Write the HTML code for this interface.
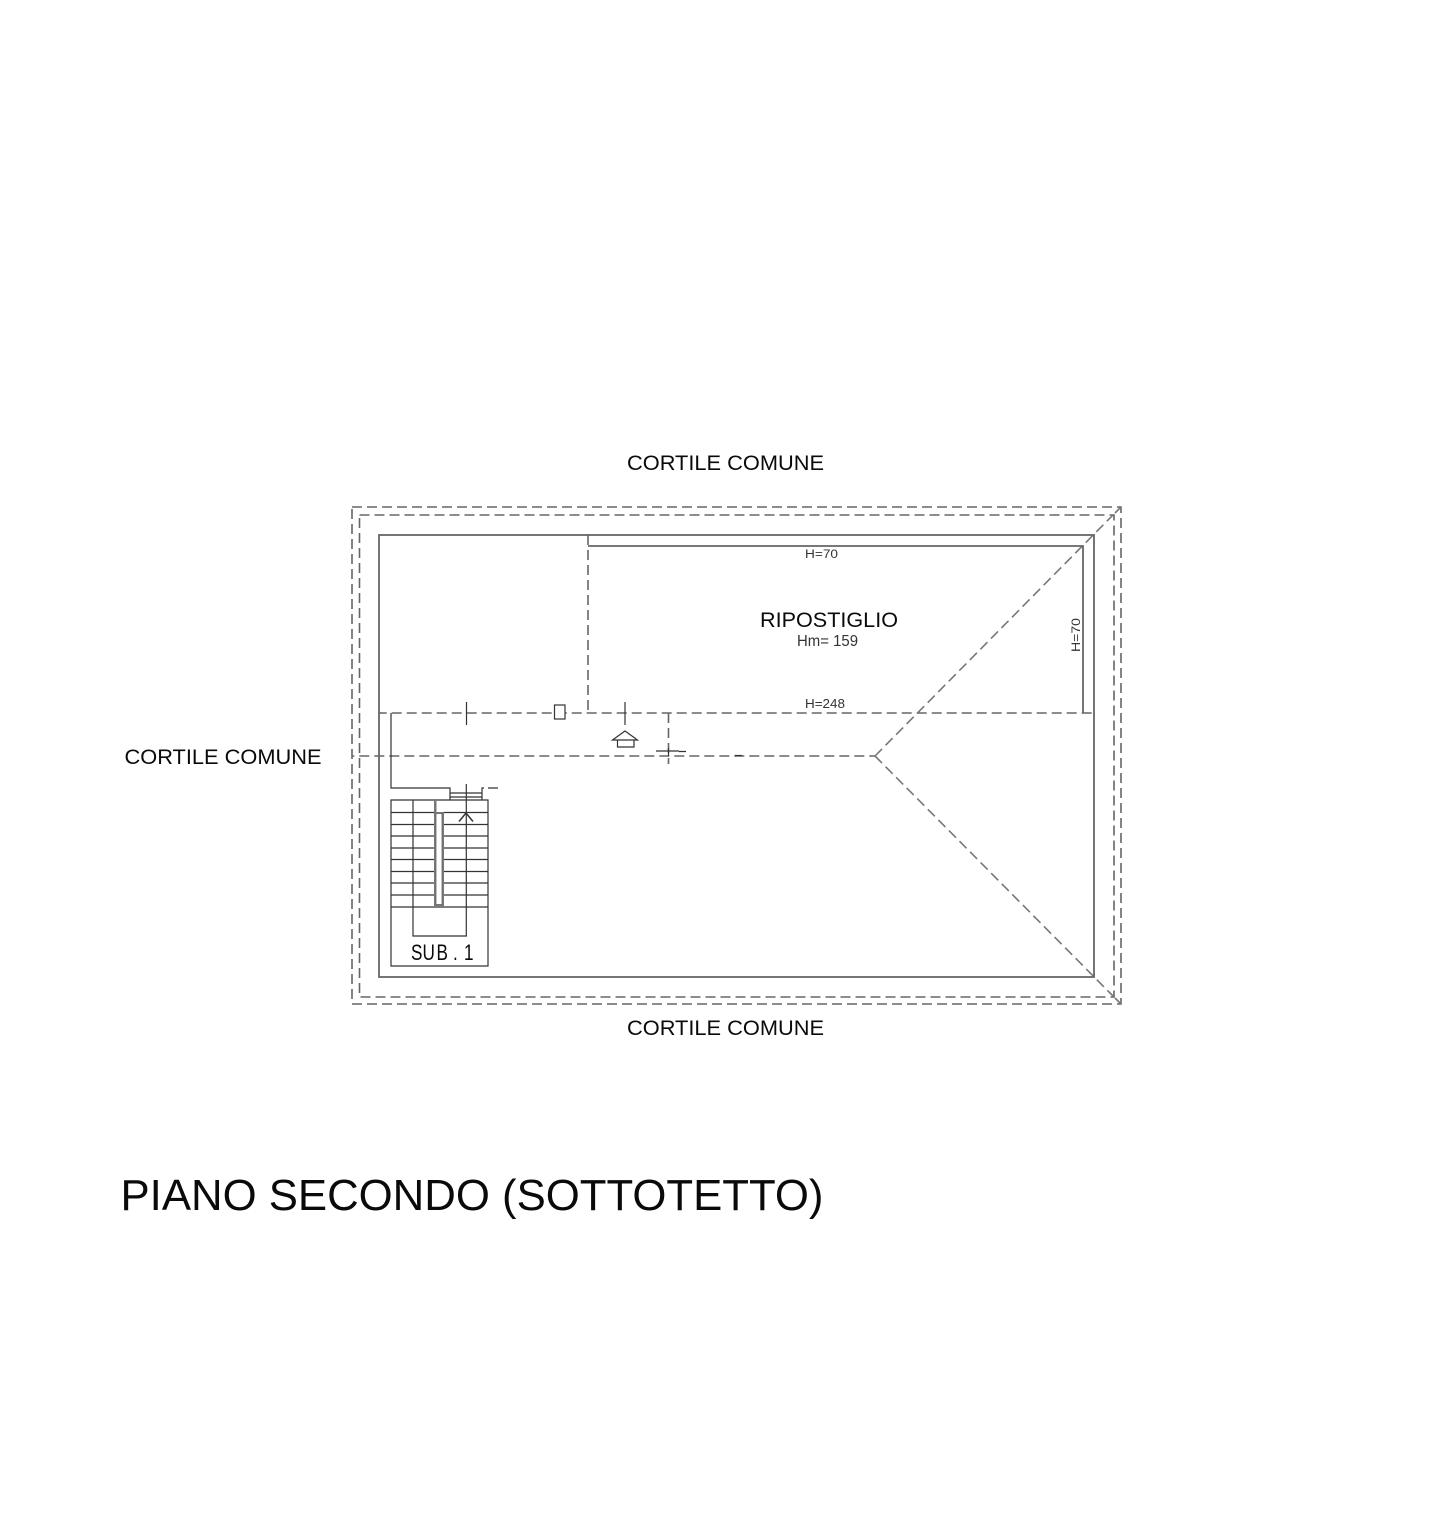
<!DOCTYPE html>
<html><head><meta charset="utf-8"><title>Piano secondo</title>
<style>html,body{margin:0;padding:0;background:#fff}svg{display:block}
text{font-family:"Liberation Sans",sans-serif;fill:#0a0a0a}</style></head>
<body>
<svg xmlns="http://www.w3.org/2000/svg" width="1445" height="1536" viewBox="0 0 1445 1536">
<rect width="1445" height="1536" fill="#fff"/>
<g fill="none" stroke="#666" stroke-width="1.6">
<g stroke-dasharray="10 5">
<rect x="352" y="507" width="769" height="497"/>
<rect x="359.500" y="515" width="754.500" height="482"/>
<path d="M379 713H1094" stroke-dashoffset="2.300"/>
<path d="M352 756H875" stroke-dashoffset="7.700"/>
<path d="M588 535V713M668.500 713V764"/>
<path d="M875 756L1113 515M875 756L1113 996" stroke="#777"/>
</g>
<path d="M1115 513L1121 507M1115 998L1121 1004" stroke="#777"/>
<rect x="379" y="535" width="715" height="442" stroke-width="1.8"/>
<path d="M588 546H1083V713" stroke-width="1.8"/>
</g>
<g fill="none" stroke="#333" stroke-width="1.2">
<path d="M391 713V788H450V800M391 800H488V966H391Z"/>
<path d="M391 812.500H434M444 812.500H488M391 824.500H434M444 824.500H488M391 836H434M444 836H488M391 848H434M444 848H488M391 859.500H434M444 859.500H488M391 871.500H434M444 871.500H488M391 883H434M444 883H488M391 895H434M444 895H488M391 907H488"/>
<path d="M413 800V936H466.300V784"/>
<path d="M450 793H482M450 797H482M482 800V788H484M488 788H498"/>
<path d="M459 821.500L466 813L473 821.500" stroke-width="1.500"/>
<path d="M466.500 702V725M625 702V725M656 751H679M679 751.500H686M668.500 748V756"/>
<rect x="554.500" y="705" width="10.500" height="14" fill="#fff"/>
<path d="M612.500 740L625 731L637.500 740ZM617.500 740V747H634V740" fill="#fff"/>
<path d="M735 755.500H742" />
</g>
<rect x="434" y="800" width="2.500" height="13" fill="#777"/>
<rect x="434" y="812" width="10" height="95" fill="#777"/>
<rect x="436" y="813.500" width="6" height="91" fill="#fff" stroke="#666" stroke-width=".8"/>
<text x="627" y="470" font-size="21" textLength="197" lengthAdjust="spacingAndGlyphs">CORTILE COMUNE</text>
<text x="124.500" y="764" font-size="21" textLength="197" lengthAdjust="spacingAndGlyphs">CORTILE COMUNE</text>
<text x="627" y="1035" font-size="21" textLength="197" lengthAdjust="spacingAndGlyphs">CORTILE COMUNE</text>
<text x="120.500" y="1210" font-size="44" textLength="703" lengthAdjust="spacingAndGlyphs">PIANO SECONDO (SOTTOTETTO)</text>
<text x="760" y="627" font-size="21" textLength="138" lengthAdjust="spacingAndGlyphs">RIPOSTIGLIO</text>
<text x="797" y="646" font-size="16" textLength="61" lengthAdjust="spacingAndGlyphs" style="fill:#333">Hm= 159</text>
<text x="805" y="558" font-size="11.500" textLength="33" lengthAdjust="spacingAndGlyphs" style="fill:#333">H=70</text>
<text x="805" y="708" font-size="12.500" textLength="40" lengthAdjust="spacingAndGlyphs" style="fill:#333">H=248</text>
<text transform="translate(1080 652) rotate(-90)" font-size="12" textLength="34" lengthAdjust="spacingAndGlyphs" style="fill:#333">H=70</text>
<text transform="scale(.78 1)" x="526.900 541.700 559.600 580.800 587 594.900" y="960" font-size="22">SUB. 1</text>
</svg>
</body></html>
